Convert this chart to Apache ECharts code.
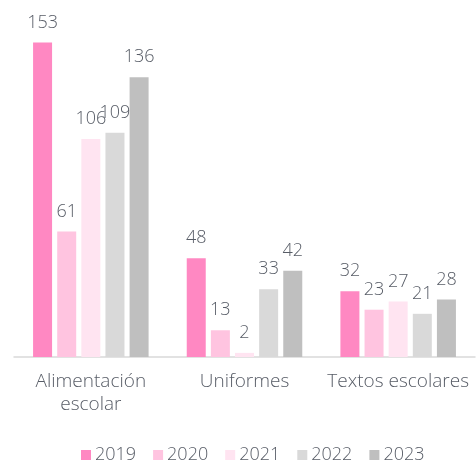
<!DOCTYPE html>
<html>
<head>
<meta charset="utf-8">
<script src="https://cdn.jsdelivr.net/npm/echarts@6/dist/echarts.min.js"></script>
<style>
	html, body { margin: 0; padding: 0; background: #fff; }
	#main { width: 476px; height: 462px; }
</style>
</head>
<body>
<div id="main"></div>
<script>
	// categorías y valores
	var categories = ['Alimentación\nescolar', 'Uniformes', 'Textos escolares'];
	var years = ['2019', '2020', '2021', '2022', '2023'];
	var v2019 = [153, 48, 32];
	var v2020 = [61, 13, 23];
	var v2021 = [106, 2, 27];
	var v2022 = [109, 33, 21];
	var v2023 = [136, 42, 28];
	var colors = ['#FF88C2', '#FFC4E0', '#FFE4F1', '#D9D9D9', '#BFBFBF'];

	var font = 'Open Sans';
	var textColor = '#575c66';

	var allValues = [v2019, v2020, v2021, v2022, v2023];
	var series = years.map(function (y, i) {
		return {
			name: y,
			type: 'bar',
			data: allValues[i],
			barWidth: 19,
			barGap: '27%',
			itemStyle: { color: colors[i] },
			label: {
				show: true,
				position: 'top',
				distance: 11,
				color: textColor,
				fontFamily: font,
				fontWeight: 300,
				fontSize: 18
			}
		};
	});

	var myChart = echarts.init(document.getElementById('main'));
	var option = {
		animation: false,
		color: colors,
		grid: { left: 14, right: 1, top: 28, bottom: 105 },
		legend: {
			top: 441,
			left: 76,
			itemWidth: 10,
			itemHeight: 10,
			itemGap: 17,
			icon: 'rect',
			textStyle: { color: textColor, fontFamily: font, fontWeight: 300, fontSize: 18, padding: [0, 0, 0, -1] },
			data: years
		},
		xAxis: {
			type: 'category',
			data: categories,
			axisTick: { show: false },
			axisLine: { lineStyle: { color: '#D9D9D9', width: 1.5 } },
			axisLabel: {
				color: textColor,
				fontFamily: font,
				fontWeight: 300,
				fontSize: 19,
				margin: 13,
				lineHeight: 23,
				interval: 0
			}
		},
		yAxis: {
			type: 'value',
			min: 0,
			max: 160,
			show: false,
			splitLine: { show: false }
		},
		series: series
	};
	myChart.setOption(option);
</script>
</body>
</html>
